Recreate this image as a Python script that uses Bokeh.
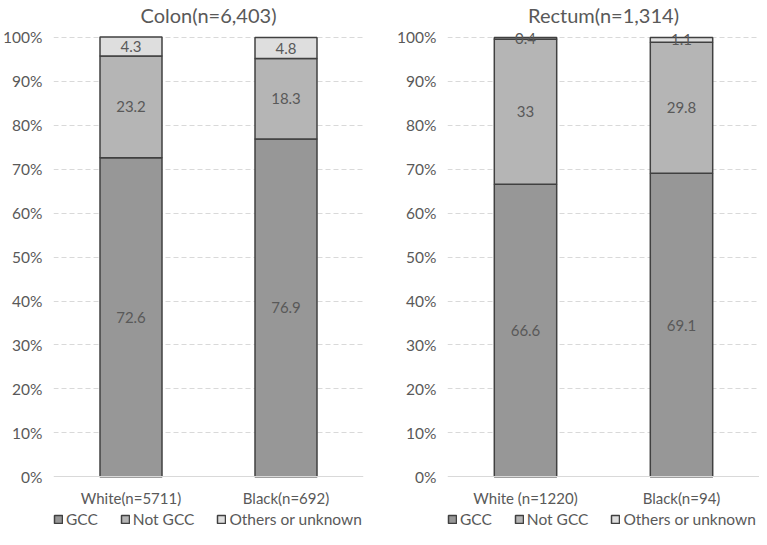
from bokeh.plotting import figure
from bokeh.layouts import row
from bokeh.models import ColumnDataSource, FactorRange, Range1d, Legend, LegendItem, FixedTicker
from bokeh.core.properties import value
from bokeh.embed import file_html
from bokeh.resources import INLINE

# ---- data ----
series = ["GCC", "Not GCC", "Others or unknown"]
colon_groups = ["White(n=5711)", "Black(n=692)"]
colon_gcc = [72.6, 76.9]
colon_not_gcc = [23.2, 18.3]
colon_other = [4.3, 4.8]

rectum_groups = ["White (n=1220)", "Black(n=94)"]
rectum_gcc = [66.6, 69.1]
rectum_not_gcc = [33.0, 29.8]
rectum_other = [0.4, 1.1]

y_ticks = [0, 10, 20, 30, 40, 50, 60, 70, 80, 90, 100]

colors = ["#979797", "#b5b5b5", "#dedede"]
TEXT = "#595959"
FONT = "Lato"


def make_chart(title, groups, gcc, notg, other, width, left_border, right_border):
    keys = ["gcc", "not", "other"]
    src = ColumnDataSource(dict(x=groups, gcc=gcc, **{"not": notg}, other=other))
    p = figure(x_range=FactorRange(*groups, factor_padding=0, range_padding=0),
               y_range=Range1d(-12, 102.5), width=width, height=529,
               output_backend="svg", toolbar_location=None, min_border=0,
               min_border_left=left_border, min_border_right=right_border,
               min_border_top=0, min_border_bottom=0)
    rs = p.vbar_stack(keys, x="x", width=0.4, source=src, fill_color=colors,
                      line_color="#404040", line_width=1.5)
    # labels at segment midpoints
    lx, ly, lt = [], [], []
    for i, g in enumerate(groups):
        base = 0
        for vals in (gcc, notg, other):
            v = vals[i]
            lx.append(g)
            ly.append(base + v / 2)
            lt.append(f"{v:g}")
            base += v
    p.text(x="x", y="y", text="t", source=ColumnDataSource(dict(x=lx, y=ly, t=lt)),
           text_align="center", text_baseline="middle", text_color=TEXT,
           text_font=value(FONT), text_font_size="15px")

    p.title.text = title
    p.title.align = "center"
    p.title.text_font = FONT
    p.title.text_font_size = "20px"
    p.title.text_font_style = "normal"
    p.title.text_color = TEXT
    p.title.standoff = 0

    p.outline_line_color = None
    p.xgrid.grid_line_color = None
    p.ygrid.grid_line_color = "#d9d9d9"
    p.ygrid.grid_line_dash = "5 3"
    p.ygrid.ticker = FixedTicker(ticks=y_ticks[1:])

    p.yaxis.ticker = FixedTicker(ticks=y_ticks)
    p.yaxis.major_label_overrides = {t: f"{t}%" for t in y_ticks}
    p.yaxis.axis_line_color = None
    p.yaxis.major_tick_line_color = None
    p.yaxis.minor_tick_line_color = None
    p.yaxis.major_tick_out = 0
    p.yaxis.minor_tick_out = 0
    p.yaxis.major_label_text_font = FONT
    p.yaxis.major_label_text_font_size = "15.5px"
    p.yaxis.major_label_text_color = TEXT
    p.yaxis.major_label_standoff = 11

    p.xaxis.fixed_location = 0
    p.xaxis.axis_line_color = "#d9d9d9"
    p.xaxis.major_tick_line_color = None
    p.xaxis.minor_tick_line_color = None
    p.xaxis.major_tick_out = 0
    p.xaxis.minor_tick_out = 0
    p.xaxis.major_label_text_font = FONT
    p.xaxis.major_label_text_font_size = "15px"
    p.xaxis.major_label_text_color = TEXT
    p.xaxis.major_label_standoff = 12

    legend = Legend(items=[LegendItem(label=s, renderers=[r]) for s, r in zip(series, rs)],
                    orientation="horizontal", location=(0, 1),
                    glyph_width=10, glyph_height=10, spacing=22, label_standoff=3,
                    label_text_font=FONT, label_text_font_size="15.5px",
                    label_text_color=TEXT, border_line_color=None,
                    background_fill_alpha=0, padding=0, margin=0)
    p.add_layout(legend, "center")
    return p


p1 = make_chart("Colon(n=6,403)", colon_groups, colon_gcc, colon_not_gcc, colon_other,
                375, 46, 12)
p2 = make_chart("Rectum(n=1,314)", rectum_groups, rectum_gcc, rectum_not_gcc, rectum_other,
                384, 72, 0)

layout = row(p1, p2)
open("out.html", "w").write(file_html(layout, INLINE))
